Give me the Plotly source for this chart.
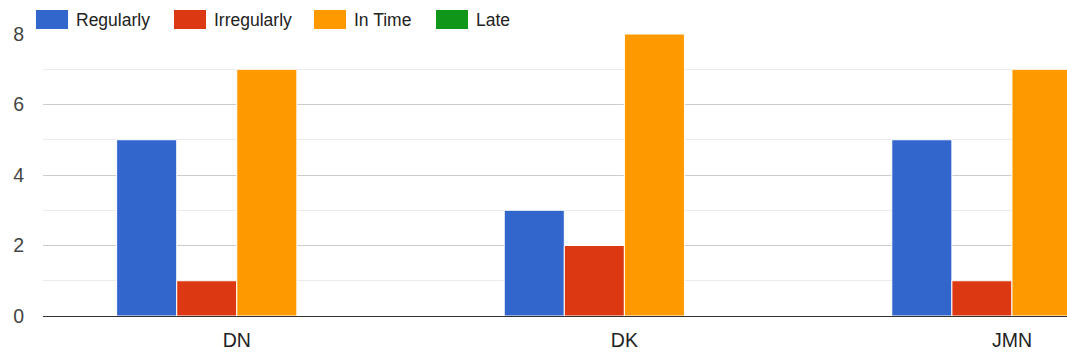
import plotly.graph_objects as go

categories = ["DN", "DK", "JMN"]
series_names = ["Regularly", "Irregularly", "In Time", "Late"]
regularly = [5, 3, 5]
irregularly = [1, 2, 1]
in_time = [7, 8, 7]
late = [0, 0, 0]
series_values = [regularly, irregularly, in_time, late]
series_colors = ["#3366cc", "#dc3912", "#ff9900", "#109618"]

W, H = 1067, 356
L, R, T, B = 43, 0, 34, 40
font_fam = "Arial, Liberation Sans, sans-serif"

fig = go.Figure()
for name, vals, col in zip(series_names, series_values, series_colors):
    fig.add_trace(go.Bar(x=categories, y=vals, name=name, marker_color=col,
                         marker_line=dict(color="white", width=1)))

# legend drawn by hand (google-charts style big swatches)
def px_x(p):
    return (p - L) / (W - L - R)

def px_y(p):
    return (H - B - p) / (H - T - B)

box_x = [36, 174, 314, 436]
for i, (name, col) in enumerate(zip(series_names, series_colors)):
    fig.add_shape(type="rect", xref="paper", yref="paper",
                  x0=px_x(box_x[i]), x1=px_x(box_x[i] + 32),
                  y0=px_y(29), y1=px_y(10),
                  fillcolor=col, line=dict(color=col, width=0))
    fig.add_annotation(xref="paper", yref="paper", x=px_x(box_x[i] + 38), y=px_y(19.5),
                       text=name, showarrow=False, xanchor="left", yanchor="middle",
                       font=dict(size=17.5, color="#222222", family=font_fam))

fig.update_layout(
    width=W, height=H, barmode="group", bargap=0.38, bargroupgap=0,
    margin=dict(l=L, r=R, t=T, b=B), paper_bgcolor="white", plot_bgcolor="white",
    showlegend=False, font=dict(family=font_fam, color="#444444"),
)
fig.update_xaxes(range=[-0.5, 2.142], showline=True, linecolor="#333333", linewidth=1,
                 showgrid=False, tickfont=dict(size=19.5, color="#222222"),
                 ticks="", ticklabelstandoff=7)
fig.update_yaxes(range=[0, 8], dtick=2, tick0=0, showgrid=True, gridcolor="#cccccc",
                 zeroline=False, tickfont=dict(size=19.5, color="#444444"),
                 ticklabelstandoff=18,
                 minor=dict(dtick=1, tick0=0, showgrid=True, gridcolor="#ebebeb"))

fig.write_html("out.html", config={"displayModeBar": False},
               post_script="document.body.style.margin='0';")
